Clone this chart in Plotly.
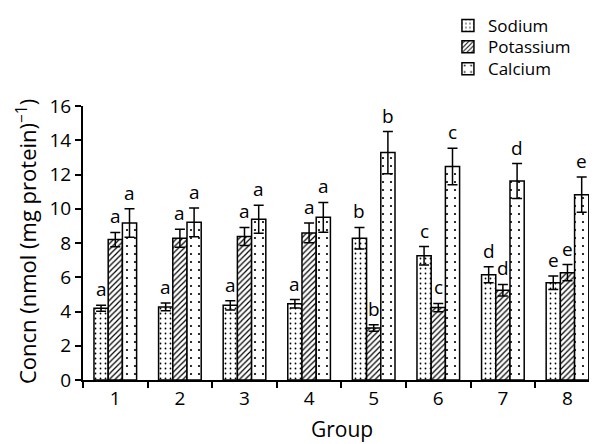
import plotly.graph_objects as go

groups = ["1", "2", "3", "4", "5", "6", "7", "8"]
sodium = [4.19, 4.27, 4.36, 4.45, 8.28, 7.25, 6.15, 5.68]
sodium_err = [0.17, 0.22, 0.27, 0.25, 0.63, 0.54, 0.47, 0.39]
potassium = [8.20, 8.28, 8.38, 8.59, 3.04, 4.23, 5.24, 6.27]
potassium_err = [0.42, 0.53, 0.53, 0.58, 0.19, 0.24, 0.34, 0.47]
calcium = [9.17, 9.21, 9.39, 9.50, 13.28, 12.47, 11.62, 10.82]
calcium_err = [0.83, 0.84, 0.82, 0.87, 1.23, 1.07, 1.02, 1.03]
letters = ["a", "a", "a", "a", "b", "c", "d", "e"]

FONT = "Open Sans"
series = [
    ("Sodium", sodium, sodium_err, dict(shape=".", size=5, solidity=0.1), "legend"),
    ("Potassium", potassium, potassium_err, dict(shape="/", size=4, solidity=0.3), "legend2"),
    ("Calcium", calcium, calcium_err, dict(shape=".", size=8, solidity=0.06), "legend3"),
]

fig = go.Figure()
for name, vals, errs, pat, leg in series:
    fig.add_trace(go.Bar(
        name=name, x=groups, y=vals, legend=leg,
        marker=dict(color="white", line=dict(color="black", width=1.5),
                    pattern=dict(fgcolor="black", bgcolor="white", fillmode="replace", **pat)),
        error_y=dict(type="data", array=errs, visible=True, color="black", thickness=1.5, width=5),
    ))

bargap = 0.34
xmax = 7.457
ppc = 514 / (xmax + 0.5)
bw = ppc * (1 - bargap) / 3
anns = []
for k, (name, vals, errs, pat, leg) in enumerate(series):
    for i, (v, e, L) in enumerate(zip(vals, errs, letters)):
        anns.append(dict(x=i, y=v + e, text=L, showarrow=False, xref="x", yref="y",
                         xshift=(k - 1) * bw, yanchor="bottom", yshift=1,
                         font=dict(family=FONT, size=19, color="black")))

anns.append(dict(text="Concn (nmol (mg protein)<sup>−1</sup>)", textangle=-90, showarrow=False,
                 xref="paper", yref="paper", x=-0.11, y=0.505, xanchor="center", yanchor="middle",
                 font=dict(family=FONT, size=22, color="black")))
anns.append(dict(text="Group", showarrow=False, xref="paper", yref="paper", x=0.504, y=-0.18,
                 xanchor="center", yanchor="middle", font=dict(family=FONT, size=21, color="black")))


def leg(y):
    return dict(x=0.71, y=y, xanchor="left", yanchor="middle", bgcolor="rgba(0,0,0,0)",
                font=dict(family=FONT, size=17, color="black"))


# page body has an 8px margin, so the figure is laid out 8px up/left of the page coordinates
fig.update_layout(
    width=589, height=436,
    margin=dict(l=75, r=0, t=97, b=64),
    paper_bgcolor="white", plot_bgcolor="white",
    barmode="group", bargap=bargap, bargroupgap=0,
    font=dict(family=FONT, size=19, color="black"),
    showlegend=True,
    legend=leg(1.29), legend2=leg(1.21), legend3=leg(1.13),
    annotations=anns,
)
fig.update_xaxes(type="category", range=[-0.5, xmax], showline=True, linecolor="black", linewidth=2,
                 ticks="outside", tickson="boundaries", ticklen=6, tickwidth=1.5, tickcolor="black",
                 showgrid=False, zeroline=False, tickfont=dict(family=FONT, size=19))
fig.update_yaxes(range=[0, 16], dtick=2, showline=True, linecolor="black", linewidth=2,
                 ticks="outside", ticklen=6, tickwidth=1.5, tickcolor="black",
                 showgrid=False, zeroline=False, tickfont=dict(family=FONT, size=19))

fig.write_html("out.html")
